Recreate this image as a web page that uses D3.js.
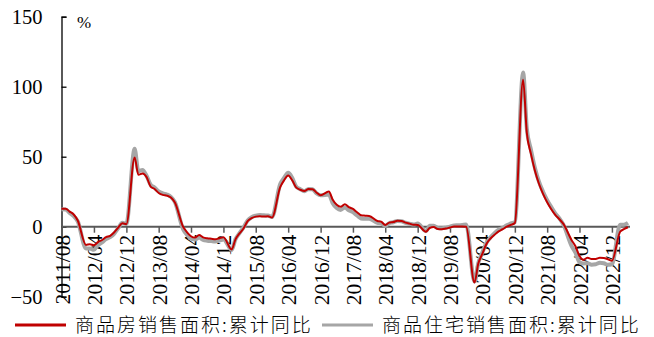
<!DOCTYPE html>
<html>
<head>
<meta charset="utf-8">
<script src="https://cdn.jsdelivr.net/npm/d3@7/dist/d3.min.js"></script>
<style>
  html, body { margin: 0; padding: 0; background: #fff; }
  svg { display: block; }
</style>
</head>
<body>
<svg id="chart" width="654" height="337"></svg>
<script>
// Monthly cumulative YoY (Jan is reported together with Feb, so it is absent)
const months = [
  "2011/08","2011/09","2011/10","2011/11","2011/12",
  "2012/02","2012/03","2012/04","2012/05","2012/06","2012/07","2012/08","2012/09","2012/10","2012/11","2012/12",
  "2013/02","2013/03","2013/04","2013/05","2013/06","2013/07","2013/08","2013/09","2013/10","2013/11","2013/12",
  "2014/02","2014/03","2014/04","2014/05","2014/06","2014/07","2014/08","2014/09","2014/10","2014/11","2014/12",
  "2015/02","2015/03","2015/04","2015/05","2015/06","2015/07","2015/08","2015/09","2015/10","2015/11","2015/12",
  "2016/02","2016/03","2016/04","2016/05","2016/06","2016/07","2016/08","2016/09","2016/10","2016/11","2016/12",
  "2017/02","2017/03","2017/04","2017/05","2017/06","2017/07","2017/08","2017/09","2017/10","2017/11","2017/12",
  "2018/02","2018/03","2018/04","2018/05","2018/06","2018/07","2018/08","2018/09","2018/10","2018/11","2018/12",
  "2019/02","2019/03","2019/04","2019/05","2019/06","2019/07","2019/08","2019/09","2019/10","2019/11","2019/12",
  "2020/02","2020/03","2020/04","2020/05","2020/06","2020/07","2020/08","2020/09","2020/10","2020/11","2020/12",
  "2021/02","2021/03","2021/04","2021/05","2021/06","2021/07","2021/08","2021/09","2021/10","2021/11","2021/12",
  "2022/02","2022/03","2022/04","2022/05","2022/06","2022/07","2022/08","2022/09","2022/10","2022/11","2022/12",
  "2023/02","2023/03","2023/04"
];

// 商品房销售面积:累计同比 (%)
const commercialArea = [
  12.9, 12.9, 10.8, 8.7, 4.4,
  -13.0, -12.5, -13.3, -11.0, -9.5, -7.5, -6.5, -4.0, -0.6, 2.4, 1.8,
  49.5, 37.1, 38.0, 35.6, 28.7, 26.9, 24.1, 22.7, 22.2, 20.8, 17.3,
  -0.1, -3.8, -6.8, -7.8, -6.0, -7.6, -8.3, -8.6, -8.9, -8.2, -7.6,
  -16.3, -9.2, -4.8, -1.3, 3.9, 6.1, 7.2, 7.5, 7.2, 7.4, 6.5,
  28.2, 33.1, 36.5, 33.2, 27.9, 26.4, 25.5, 26.9, 26.8, 24.3, 22.5,
  25.1, 19.5, 15.7, 14.3, 16.1, 14.0, 12.7, 10.3, 8.2, 7.9, 7.7,
  4.1, 3.6, 1.3, 2.9, 3.3, 4.2, 4.0, 2.9, 2.2, 1.4, 1.3,
  -3.6, -0.9, -0.3, -1.6, -1.8, -1.3, -0.6, 0.1, 0.1, 0.2, -0.1,
  -39.9, -26.3, -19.3, -12.3, -8.4, -5.8, -3.3, -1.8, 0.0, 1.3, 2.6,
  104.9, 67.0, 52.0, 40.0, 30.5, 23.5, 17.5, 12.5, 8.5, 5.3, 2.0,
  -9.6, -13.8, -20.9, -23.6, -22.2, -23.1, -23.0, -22.2, -22.3, -23.3, -24.3,
  -3.6, -1.8, -0.4
];

// 商品住宅销售面积:累计同比 (%)
const residentialArea = [
  12.5, 12.3, 9.8, 7.5, 3.9,
  -15.5, -15.5, -16.5, -13.2, -11.2, -8.9, -7.5, -4.9, -1.0, 2.8, 2.0,
  55.6, 39.6, 40.5, 36.6, 30.0, 28.0, 25.2, 23.8, 23.0, 21.3, 17.5,
  -1.9, -5.7, -8.6, -9.2, -7.8, -9.4, -10.0, -10.3, -10.5, -9.9, -9.1,
  -16.6, -9.1, -4.6, -0.5, 4.4, 6.8, 7.9, 8.4, 8.1, 8.0, 6.9,
  30.4, 34.8, 38.5, 35.0, 28.5, 26.8, 25.4, 27.0, 26.7, 23.8, 22.4,
  23.0, 17.0, 13.3, 12.0, 13.8, 11.7, 10.4, 8.0, 5.9, 5.6, 5.6,
  2.8, 2.4, 0.5, 2.5, 3.2, 4.1, 3.9, 2.8, 2.1, 1.6, 2.2,
  -3.2, 0.6, 0.7, -0.9, -1.1, -0.7, 0.0, 0.9, 1.0, 1.2, 1.5,
  -39.2, -25.9, -18.3, -11.6, -7.6, -4.6, -2.2, -0.8, 1.0, 2.3, 3.2,
  110.2, 70.0, 55.0, 42.0, 32.0, 25.0, 19.0, 14.0, 9.5, 6.0, 1.5,
  -13.8, -18.4, -25.4, -26.3, -26.1, -27.1, -26.8, -25.7, -26.1, -27.2, -26.8,
  1.4, 1.4, 2.7
];

const xTickLabels = [
  "2011/08","2012/04","2012/12","2013/08","2014/04","2014/12","2015/08","2016/04",
  "2016/12","2017/08","2018/04","2018/12","2019/08","2020/04","2020/12","2021/08",
  "2022/04","2022/12"
];
const yTicks = [-50, 0, 50, 100, 150];

const seriesNames = ["商品房销售面积:累计同比", "商品住宅销售面积:累计同比"];
const seriesColors = ["#C00000", "#A6A6A6"];

const parseMonth = d3.timeParse("%Y/%m");
const serif = "'Liberation Serif', 'Times New Roman', serif";
const cjk = "'Noto Sans CJK SC', 'Noto Sans CJK JP', sans-serif";

const svg = d3.select("#chart");

const x = d3.scaleTime()
  .domain([parseMonth("2011/08"), parseMonth("2023/04")])
  .range([61.5, 628]);
const y = d3.scaleLinear()
  .domain([-50, 150])
  .range([296.7, 16.7]);

// y axis (ticks point inward)
const yAxis = svg.append("g")
  .attr("transform", "translate(61.5,0)")
  .call(d3.axisLeft(y).tickValues(yTicks).tickSize(-5).tickPadding(19).tickFormat(d3.format("d")));
yAxis.select(".domain").attr("stroke", "#000").attr("stroke-width", 1.3);
yAxis.selectAll(".tick line").attr("stroke", "#000").attr("stroke-width", 1.3);
yAxis.selectAll("text")
  .attr("fill", "#000")
  .style("font-family", serif)
  .style("font-size", "20.5px");

// unit label
svg.append("text")
  .attr("x", 77)
  .attr("y", 28)
  .attr("fill", "#000")
  .style("font-family", serif)
  .style("font-size", "17px")
  .text("%");

// x axis along the zero line
const xAxis = svg.append("g")
  .attr("transform", `translate(0,${y(0)})`)
  .call(d3.axisBottom(x).tickValues(xTickLabels.map(parseMonth)).tickSize(6).tickFormat(d3.timeFormat("%Y/%m")));
xAxis.select(".domain")
  .attr("d", `M${x.range()[0]},0H${x.range()[1] + 2}`)
  .attr("stroke", "#595959").attr("stroke-width", 2);
xAxis.selectAll(".tick line").attr("stroke", "#595959").attr("stroke-width", 1.5);
xAxis.selectAll("text")
  .attr("transform", "rotate(-90)")
  .attr("text-anchor", "end")
  .attr("x", -8)
  .attr("y", 0)
  .attr("dy", "0.35em")
  .attr("fill", "#000")
  .style("font-family", serif)
  .style("font-size", "21.5px");

// series lines, smoothed without overshoot
const points = (vals) => months.map((m, i) => ({ date: parseMonth(m), value: vals[i] }));
const line = d3.line()
  .x(d => x(d.date))
  .y(d => y(d.value))
  .curve(d3.curveMonotoneX);

svg.append("path")
  .datum(points(residentialArea))
  .attr("fill", "none")
  .attr("stroke", seriesColors[1])
  .attr("stroke-width", 4)
  .attr("stroke-linejoin", "round")
  .attr("d", line);

svg.append("path")
  .datum(points(commercialArea))
  .attr("fill", "none")
  .attr("stroke", seriesColors[0])
  .attr("stroke-width", 2)
  .attr("stroke-linejoin", "round")
  .attr("d", line);

// legend
const legendItems = [
  { name: seriesNames[0], color: seriesColors[0], x0: 15 },
  { name: seriesNames[1], color: seriesColors[1], x0: 322 }
];
const legend = svg.append("g");
legendItems.forEach(item => {
  legend.append("line")
    .attr("x1", item.x0).attr("x2", item.x0 + 51)
    .attr("y1", 325).attr("y2", 325)
    .attr("stroke", item.color)
    .attr("stroke-width", 3);
  legend.append("text")
    .attr("x", item.x0 + 60)
    .attr("y", 325)
    .attr("dy", "0.35em")
    .attr("fill", "#000")
    .style("font-family", cjk)
    .style("font-weight", 300)
    .style("font-size", "19px")
    .style("letter-spacing", "2px")
    .text(item.name);
});
</script>
</body>
</html>
